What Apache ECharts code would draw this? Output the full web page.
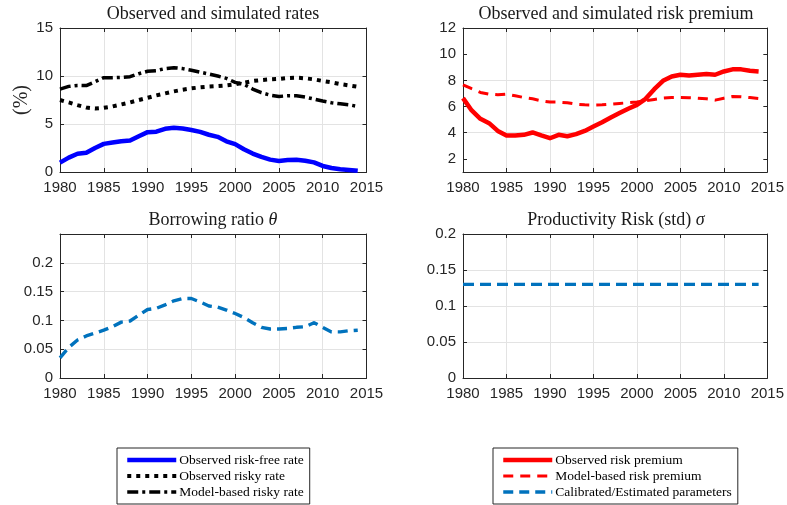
<!DOCTYPE html>
<html>
<head>
<meta charset="utf-8">
<script src="https://cdn.jsdelivr.net/npm/echarts@6/dist/echarts.min.js"></script>
<style>
  html, body { margin: 0; padding: 0; background: #ffffff; }
  #chart { width: 787px; height: 505px; }
</style>
</head>
<body>
<div id="chart"></div>
<script>
// Sample years
const years = [1980, 1981, 1982, 1983, 1984, 1985, 1986, 1987, 1988, 1989,
               1990, 1991, 1992, 1993, 1994, 1995, 1996, 1997, 1998, 1999,
               2000, 2001, 2002, 2003, 2004, 2005, 2006, 2007, 2008, 2009,
               2010, 2011, 2012, 2013, 2014];

// Rates (%)
const riskFreeObserved = [0.98, 1.5, 1.9, 2.0, 2.5, 2.93, 3.07, 3.2, 3.28, 3.73,
                          4.15, 4.2, 4.5, 4.6, 4.53, 4.38, 4.18, 3.88, 3.66, 3.2,
                          2.9, 2.37, 1.92, 1.57, 1.29, 1.15, 1.25, 1.27, 1.18, 1.0,
                          0.63, 0.42, 0.28, 0.21, 0.12];
const riskyObserved = [7.5, 7.25, 6.97, 6.72, 6.62, 6.69, 6.83, 7.04, 7.25, 7.5,
                       7.73, 7.98, 8.19, 8.4, 8.57, 8.71, 8.82, 8.9, 8.95, 9.02,
                       9.13, 9.3, 9.48, 9.58, 9.65, 9.69, 9.79, 9.83, 9.76, 9.65,
                       9.48, 9.34, 9.16, 9.02, 8.88];
const riskyModel = [8.64, 8.92, 9.02, 9.0, 9.4, 9.83, 9.83, 9.86, 9.93, 10.24,
                    10.49, 10.56, 10.77, 10.87, 10.77, 10.6, 10.4, 10.2, 10.0, 9.75,
                    9.34, 9.13, 8.64, 8.26, 8.01, 7.87, 7.94, 7.94, 7.8, 7.6,
                    7.39, 7.21, 7.1, 7.0, 6.83];

// Risk premium (%)
const premiumObserved = [6.64, 5.7, 5.06, 4.73, 4.14, 3.79, 3.79, 3.84, 4.02, 3.79,
                         3.58, 3.84, 3.73, 3.89, 4.14, 4.47, 4.8, 5.16, 5.5, 5.83,
                         6.13, 6.59, 7.33, 7.97, 8.3, 8.43, 8.38, 8.43, 8.48, 8.43,
                         8.68, 8.84, 8.84, 8.73, 8.68];
const premiumModel = [7.66, 7.36, 7.08, 6.95, 6.9, 6.95, 6.82, 6.69, 6.59, 6.44,
                      6.34, 6.34, 6.29, 6.18, 6.13, 6.11, 6.13, 6.18, 6.24, 6.29,
                      6.34, 6.44, 6.54, 6.64, 6.69, 6.69, 6.67, 6.64, 6.59, 6.49,
                      6.64, 6.77, 6.74, 6.69, 6.62];

// Borrowing ratio theta
const borrowingRatio = [0.035, 0.053, 0.066, 0.073, 0.078, 0.083, 0.089, 0.097, 0.099, 0.109,
                        0.119, 0.121, 0.127, 0.134, 0.138, 0.138, 0.132, 0.125, 0.123, 0.118,
                        0.112, 0.105, 0.096, 0.088, 0.085, 0.085, 0.086, 0.088, 0.089, 0.096,
                        0.088, 0.080, 0.080, 0.082, 0.083];

// Productivity risk sigma (calibrated)
const productivityRisk = [0.13, 0.13, 0.13, 0.13, 0.13, 0.13, 0.13, 0.13, 0.13, 0.13,
                          0.13, 0.13, 0.13, 0.13, 0.13, 0.13, 0.13, 0.13, 0.13, 0.13,
                          0.13, 0.13, 0.13, 0.13, 0.13, 0.13, 0.13, 0.13, 0.13, 0.13,
                          0.13, 0.13, 0.13, 0.13, 0.13];

// Tick labels
const yearTicks = [1980, 1985, 1990, 1995, 2000, 2005, 2010, 2015];
const premiumTicks = [2, 4, 6, 8, 10, 12];

const axisColor = '#262626';
const gridColor = '#e3e3e3';
const sansFont = 'Liberation Sans, Arial, sans-serif';
const serifFont = 'Liberation Serif, Times New Roman, serif';

const pairs = vals => years.map((y, i) => [y, vals[i]]);

const grids = [
  { left: 60, top: 28, width: 306.5, height: 144 },
  { left: 463, top: 28, width: 306, height: 144 },
  { left: 60, top: 234, width: 306.5, height: 144 },
  { left: 463, top: 234, width: 306, height: 144 }
];

function xAxesFor(gi) {
  const common = {
    type: 'value', gridIndex: gi,
    min: yearTicks[0], max: yearTicks[yearTicks.length - 1], interval: 5,
    axisLine: { show: true, onZero: false, lineStyle: { color: axisColor, width: 1 } },
    axisTick: { show: true, inside: true, length: 4, lineStyle: { color: axisColor } }
  };
  return [
    Object.assign({}, common, {
      position: 'bottom',
      axisLabel: { show: true, color: axisColor, fontFamily: sansFont, fontSize: 15, margin: 8,
                   showMinLabel: true, showMaxLabel: true, formatter: v => String(v) },
      splitLine: { show: true, lineStyle: { color: gridColor, width: 1 } }
    }),
    Object.assign({}, common, {
      position: 'top',
      axisLabel: { show: false },
      splitLine: { show: false }
    })
  ];
}

function yAxesFor(gi, cfg) {
  const common = {
    type: 'value', gridIndex: gi, min: cfg.min, max: cfg.max, interval: cfg.interval,
    axisLine: { show: true, onZero: false, lineStyle: { color: axisColor, width: 1 } },
    axisTick: Object.assign({ show: true, inside: true, length: 4, lineStyle: { color: axisColor } },
                            cfg.ticks ? { customValues: cfg.ticks } : {})
  };
  const left = Object.assign({}, common, {
    position: 'left',
    axisLabel: Object.assign({ show: true, color: axisColor, fontFamily: sansFont, fontSize: 15, margin: 7,
                               showMinLabel: true, showMaxLabel: true,
                               formatter: cfg.formatter || (v => String(v)) },
                             cfg.ticks ? { customValues: cfg.ticks } : {}),
    splitLine: { show: true, lineStyle: { color: cfg.splitColors || gridColor, width: 1 } }
  });
  if (cfg.name) {
    left.name = cfg.name;
    left.nameLocation = 'middle';
    left.nameGap = 28;
    left.nameTextStyle = { fontFamily: serifFont, fontSize: 20, color: axisColor };
  }
  const right = Object.assign({}, common, {
    position: 'right',
    axisLabel: { show: false },
    splitLine: { show: false }
  });
  return [left, right];
}

const xAxis = [].concat(xAxesFor(0), xAxesFor(1), xAxesFor(2), xAxesFor(3));
const yAxis = [].concat(
  yAxesFor(0, { min: 0, max: 15, interval: 5, name: '(%)' }),
  yAxesFor(1, { min: 1, max: 12, interval: 1, ticks: premiumTicks,
                splitColors: ['rgba(0,0,0,0)', gridColor] }),
  yAxesFor(2, { min: 0, max: 0.25, interval: 0.05,
                formatter: v => (v > 0.2001 ? '' : String(+v.toFixed(2))) }),
  yAxesFor(3, { min: 0, max: 0.2, interval: 0.05, formatter: v => String(+v.toFixed(2)) })
);

function lineSeries(name, vals, gi, color, width, dash, z) {
  return {
    name, type: 'line', data: pairs(vals),
    xAxisIndex: gi * 2, yAxisIndex: gi * 2,
    symbol: 'none', showSymbol: false, smooth: false, silent: true,
    z: z || 2,
    lineStyle: { color, width, type: dash || 'solid', cap: 'butt', join: 'round' },
    itemStyle: { color },
    emphasis: { disabled: true }
  };
}

const series = [
  lineSeries('Observed risk-free rate', riskFreeObserved, 0, '#0000ff', 4.5, 'solid', 3),
  lineSeries('Observed risky rate', riskyObserved, 0, '#000000', 4, [4, 5]),
  lineSeries('Model-based risky rate', riskyModel, 0, '#000000', 3.5, [11, 4, 3, 4]),
  lineSeries('Observed risk premium', premiumObserved, 1, '#ff0000', 4.5, 'solid', 3),
  lineSeries('Model-based risk premium', premiumModel, 1, '#ff0000', 3, [10, 7]),
  lineSeries('Calibrated/Estimated parameters', borrowingRatio, 2, '#0072bd', 3.4, [10, 6]),
  lineSeries('Calibrated/Estimated parameters', productivityRisk, 3, '#0072bd', 3.4, [11, 6])
];

function title(text, cx, top) {
  return {
    text, left: cx, top, textAlign: 'center', padding: 0,
    textStyle: {
      fontFamily: serifFont, fontSize: 18, fontWeight: 'normal', color: '#1a1a1a',
      rich: {
        g: { fontFamily: serifFont, fontSize: 18, fontStyle: 'italic', color: '#1a1a1a' }
      }
    }
  };
}

const legendBase = {
  orient: 'vertical', itemWidth: 49, itemHeight: 14, itemGap: 2, height: 80,
  padding: [5, 6, 5, 8], borderColor: axisColor, borderWidth: 1, backgroundColor: '#ffffff',
  selectedMode: false,
  itemStyle: { opacity: 0 },
  textStyle: { fontFamily: serifFont, fontSize: 13.5, color: '#000000', padding: [0, 0, 0, -2] }
};

const option = {
  animation: false,
  backgroundColor: '#ffffff',
  title: [
    title('Observed and simulated rates', 213, 5),
    title('Observed and simulated risk premium', 616, 5),
    title('Borrowing ratio {g|θ}', 213, 211),
    title('Productivity Risk (std) {g|σ}', 616, 211)
  ],
  grid: grids,
  xAxis, yAxis, series,
  legend: [
    Object.assign({}, legendBase, {
      left: 117, top: 448,
      data: [
        { name: 'Observed risk-free rate', lineStyle: { width: 4.5 }, itemStyle: { opacity: 0 } },
        { name: 'Observed risky rate', lineStyle: { width: 4 }, itemStyle: { opacity: 0 } },
        { name: 'Model-based risky rate', lineStyle: { width: 3.5 }, itemStyle: { opacity: 0 } }
      ]
    }),
    Object.assign({}, legendBase, {
      left: 493, top: 448,
      data: [
        { name: 'Observed risk premium', lineStyle: { width: 4.5 }, itemStyle: { opacity: 0 } },
        { name: 'Model-based risk premium', lineStyle: { width: 3 }, itemStyle: { opacity: 0 } },
        { name: 'Calibrated/Estimated parameters', lineStyle: { width: 3.4 }, itemStyle: { opacity: 0 } }
      ]
    })
  ]
};

const chart = echarts.init(document.getElementById('chart'), null, { renderer: 'canvas' });
chart.setOption(option);
</script>
</body>
</html>
